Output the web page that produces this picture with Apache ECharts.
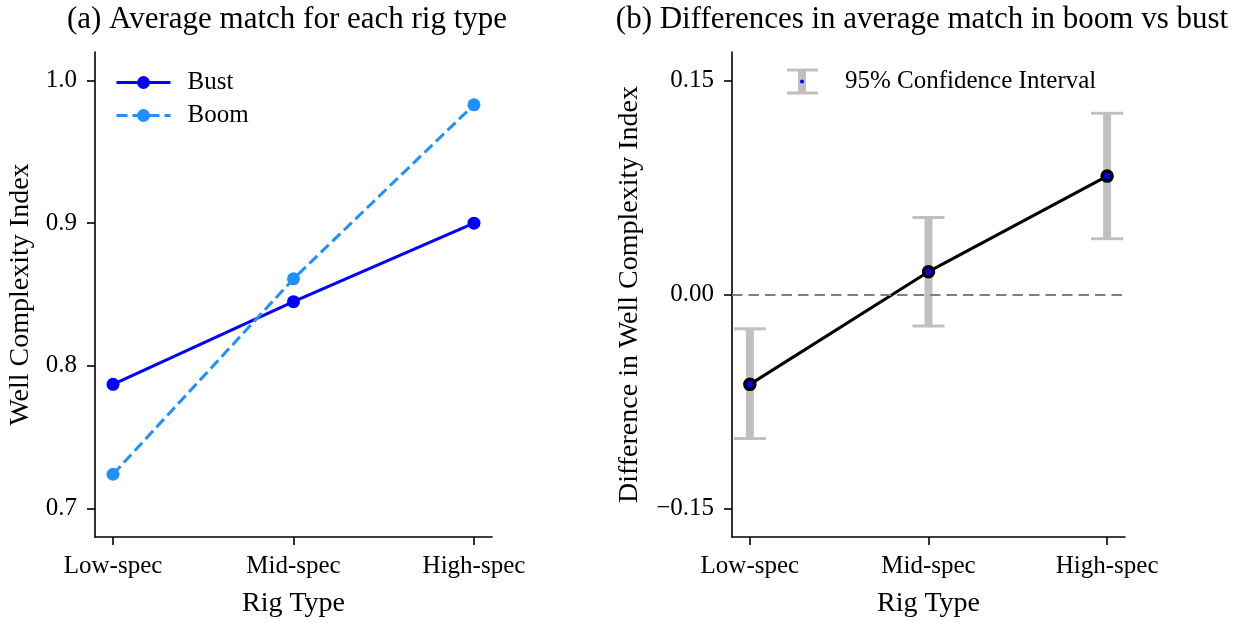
<!DOCTYPE html>
<html>
<head>
<meta charset="utf-8">
<script src="https://cdn.jsdelivr.net/npm/echarts@6/dist/echarts.min.js"></script>
<style>
  html, body { margin: 0; padding: 0; background: #fff; }
  #chart { width: 1257px; height: 623px; }
</style>
</head>
<body>
<div id="chart"></div>
<script>
// rig types on the x axis of both panels
var rigTypes = ['Low-spec', 'Mid-spec', 'High-spec']

// (a) average well complexity index
var bustAvg = [0.787, 0.845, 0.900]
var boomAvg = [0.724, 0.861, 0.983]
var leftTicks = [0.7, 0.8, 0.9, 1.0]

// (b) boom minus bust, with 95% confidence interval
var diffMean = [-0.063, 0.016, 0.083]
var diffLow = [-0.101, -0.022, 0.039]
var diffHigh = [-0.024, 0.054, 0.127]
var rightTicks = [-0.15, 0, 0.15]

var FONT = '"Liberation Serif", "DejaVu Serif", serif'
var GREY = '#c0c0c0'

function xAxisFor (gridIndex) {
  return {
    type: 'value',
    gridIndex: gridIndex,
    min: -0.1,
    max: 2.1,
    name: 'Rig Type',
    nameLocation: 'middle',
    nameGap: 53,
    nameTextStyle: { fontFamily: FONT, fontSize: 28, color: '#000' },
    splitLine: { show: false },
    axisLine: { onZero: false, lineStyle: { color: '#000', width: 1.6 } },
    axisTick: { customValues: [0, 1, 2], length: 8, lineStyle: { color: '#000', width: 1.6 } },
    axisLabel: {
      customValues: [0, 1, 2],
      margin: 17,
      fontFamily: FONT,
      fontSize: 25,
      color: '#000',
      formatter: function (v) { return rigTypes[Math.round(v)] }
    }
  }
}

function yAxisFor (gridIndex, min, max, ticks, digits, name, gap) {
  return {
    type: 'value',
    gridIndex: gridIndex,
    min: min,
    max: max,
    name: name,
    nameLocation: 'middle',
    nameGap: gap,
    nameTextStyle: { fontFamily: FONT, fontSize: 28, color: '#000' },
    splitLine: { show: false },
    axisLine: { show: true, onZero: false, lineStyle: { color: '#000', width: 1.6 } },
    axisTick: { show: true, customValues: ticks, length: 8, lineStyle: { color: '#000', width: 1.6 } },
    axisLabel: {
      customValues: ticks,
      margin: 18,
      fontFamily: FONT,
      fontSize: 25,
      color: '#000',
      formatter: function (v) {
        var s = Math.abs(v).toFixed(digits)
        return v < -1e-9 ? '\u2212' + s : s
      }
    }
  }
}

var chart = echarts.init(document.getElementById('chart'))

chart.setOption({
  animation: false,
  backgroundColor: '#fff',
  title: [
    {
      text: '(a) Average match for each rig type',
      left: 287,
      top: 4,
      padding: 0,
      textAlign: 'center',
      textStyle: { fontFamily: FONT, fontSize: 31, fontWeight: 'normal', color: '#000' }
    },
    {
      text: '(b) Differences in average match in boom vs bust',
      left: 922,
      top: 4,
      padding: 0,
      textAlign: 'center',
      textStyle: { fontFamily: FONT, fontSize: 31, fontWeight: 'normal', color: '#000' }
    }
  ],
  legend: {
    data: ['Bust', 'Boom'],
    orient: 'vertical',
    left: 110,
    top: 65,
    itemWidth: 54,
    itemHeight: 16,
    itemGap: 8,
    selectedMode: false,
    lineStyle: { width: 3 },
    textStyle: { fontFamily: FONT, fontSize: 25, color: '#000', padding: [0, 0, 0, 12], lineHeight: 22 }
  },
  grid: [
    { left: 95, right: 765, top: 52, bottom: 79 },
    { left: 732, right: 132, top: 52, bottom: 79 }
  ],
  xAxis: [xAxisFor(0), xAxisFor(1)],
  yAxis: [
    yAxisFor(0, 0.68, 1.02, leftTicks, 1, 'Well Complexity Index', 60),
    yAxisFor(1, -0.17, 0.17, rightTicks, 2, 'Difference in Well Complexity Index', 88)
  ],
  graphic: [
    { type: 'line', shape: { x1: 802, y1: 70, x2: 802, y2: 93 }, style: { stroke: GREY, lineWidth: 8 } },
    { type: 'line', shape: { x1: 787, y1: 70, x2: 818, y2: 70 }, style: { stroke: GREY, lineWidth: 3 } },
    { type: 'line', shape: { x1: 787, y1: 93, x2: 818, y2: 93 }, style: { stroke: GREY, lineWidth: 3 } },
    { type: 'circle', shape: { cx: 802, cy: 81.5, r: 2 }, style: { fill: '#0000ff' } },
    {
      type: 'text',
      left: 845,
      top: 69,
      style: { text: '95% Confidence Interval', font: '25px ' + FONT, fill: '#000' }
    }
  ],
  series: [
    {
      name: 'Bust',
      type: 'line',
      xAxisIndex: 0,
      yAxisIndex: 0,
      data: bustAvg.map(function (v, i) { return [i, v] }),
      symbol: 'circle',
      symbolSize: 13,
      itemStyle: { color: '#0000ff' },
      lineStyle: { color: '#0000ff', width: 3 }
    },
    {
      name: 'Boom',
      type: 'line',
      xAxisIndex: 0,
      yAxisIndex: 0,
      data: boomAvg.map(function (v, i) { return [i, v] }),
      symbol: 'circle',
      symbolSize: 13,
      itemStyle: { color: '#1e90ff' },
      lineStyle: { color: '#1e90ff', width: 3, type: [11, 5] }
    },
    {
      name: '95% Confidence Interval',
      type: 'custom',
      xAxisIndex: 1,
      yAxisIndex: 1,
      z: 1,
      data: diffLow.map(function (v, i) { return [i, v, diffHigh[i]] }),
      renderItem: function (params, api) {
        var lo = api.coord([api.value(0), api.value(1)])
        var hi = api.coord([api.value(0), api.value(2)])
        var cap = 16
        return {
          type: 'group',
          children: [
            { type: 'line', shape: { x1: hi[0], y1: hi[1], x2: lo[0], y2: lo[1] }, style: { stroke: GREY, lineWidth: 8 } },
            { type: 'line', shape: { x1: hi[0] - cap, y1: hi[1], x2: hi[0] + cap, y2: hi[1] }, style: { stroke: GREY, lineWidth: 3 } },
            { type: 'line', shape: { x1: lo[0] - cap, y1: lo[1], x2: lo[0] + cap, y2: lo[1] }, style: { stroke: GREY, lineWidth: 3 } }
          ]
        }
      },
      markLine: {
        silent: true,
        symbol: 'none',
        label: { show: false },
        lineStyle: { color: '#808080', width: 2, type: [10.5, 6] },
        data: [{ yAxis: 0 }]
      }
    },
    {
      name: 'Difference',
      type: 'line',
      xAxisIndex: 1,
      yAxisIndex: 1,
      z: 3,
      data: diffMean.map(function (v, i) { return [i, v] }),
      symbol: 'circle',
      symbolSize: 10,
      itemStyle: { color: '#0000ff', borderColor: '#000', borderWidth: 3.5 },
      lineStyle: { color: '#000', width: 3 }
    }
  ]
})
</script>
</body>
</html>
